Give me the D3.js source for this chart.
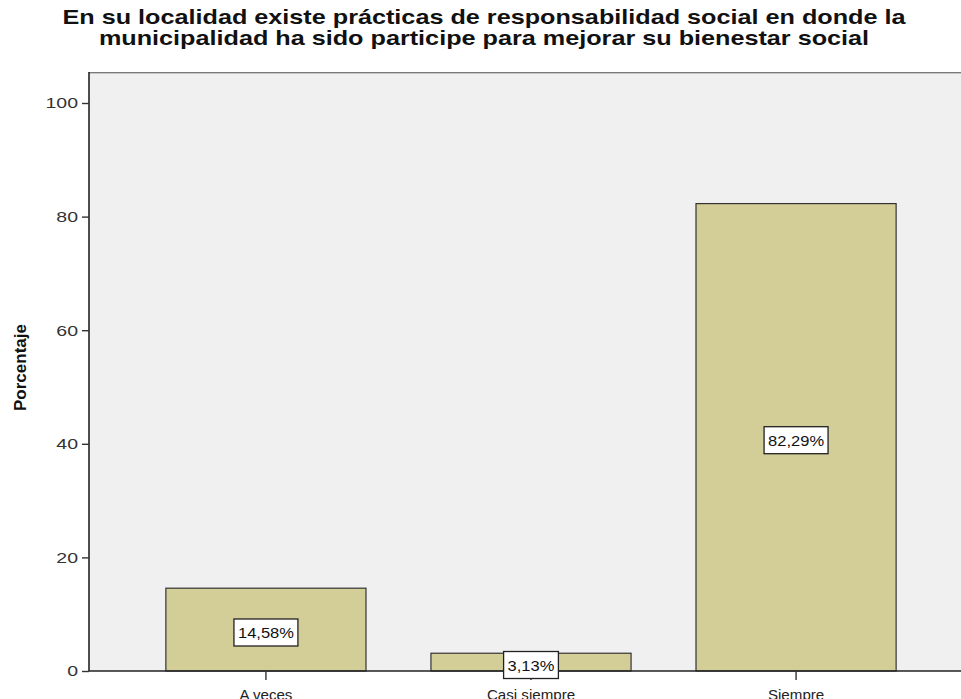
<!DOCTYPE html>
<html>
<head>
<meta charset="utf-8">
<script src="https://cdn.jsdelivr.net/npm/d3@7"></script>
<style>
  html, body { margin: 0; padding: 0; background: #ffffff; }
  svg { display: block; }
</style>
</head>
<body>
<svg id="chart" width="961" height="699"></svg>
<script>
// Response categories and their percentages
const categories = ["A veces", "Casi siempre", "Siempre"];
const percentages = [14.58, 3.13, 82.29];
const yTicks = [0, 20, 40, 60, 80, 100];
const titleLines = [
  "En su localidad existe prácticas de responsabilidad social en donde la",
  "municipalidad ha sido participe para mejorar su bienestar social"
];
const yLabel = "Porcentaje";

const svg = d3.select("#chart");
const W = 961, H = 699;
const plot = { left: 89, right: 973, top: 72, bottom: 671 };
const fontFamily = "'Liberation Sans', Arial, sans-serif";

// widen glyphs horizontally (the chart's type is set slightly extended)
function widen(sel, factor) {
  sel.each(function () {
    const len = this.getComputedTextLength();
    d3.select(this)
      .attr("textLength", len * factor)
      .attr("lengthAdjust", "spacingAndGlyphs");
  });
}

const x = d3.scaleBand()
  .domain(categories)
  .range([plot.left, plot.right])
  .paddingInner(0.245)
  .paddingOuter(0.29);

const y = d3.scaleLinear()
  .domain([0, 100])
  .range([plot.bottom, plot.bottom - 568]);

// plot background
svg.append("rect")
  .attr("x", plot.left).attr("y", plot.top)
  .attr("width", W - plot.left).attr("height", plot.bottom - plot.top)
  .attr("fill", "#f0f0f0");

// top frame edge
svg.append("line")
  .attr("x1", plot.left).attr("x2", W)
  .attr("y1", plot.top + 0.5).attr("y2", plot.top + 0.5)
  .attr("stroke", "#7a7a7a").attr("stroke-width", 1);
svg.append("line")
  .attr("x1", plot.left).attr("x2", W)
  .attr("y1", plot.top + 1.5).attr("y2", plot.top + 1.5)
  .attr("stroke", "#c4c4c4").attr("stroke-width", 1);

// bars
svg.append("g").selectAll("rect")
  .data(categories)
  .join("rect")
  .attr("x", d => x(d))
  .attr("width", x.bandwidth())
  .attr("y", (d, i) => y(percentages[i]))
  .attr("height", (d, i) => y(0) - y(percentages[i]))
  .attr("fill", "#d3ce97")
  .attr("stroke", "#333333")
  .attr("stroke-width", 1.2);

// axes
const yAxis = d3.axisLeft(y).tickValues(yTicks).tickSize(7).tickPadding(4).tickFormat(d3.format("d"));
const gy = svg.append("g").attr("transform", `translate(${plot.left},0)`).call(yAxis);
gy.select(".domain").attr("stroke", "#222").attr("stroke-width", 1.6).attr("d", `M0,${plot.top}V${plot.bottom}`);
gy.selectAll(".tick line").attr("stroke", "#333").attr("stroke-width", 1.4);
gy.selectAll(".tick text").attr("fill", "#333").attr("font-size", 15).attr("font-family", fontFamily)
  .call(widen, 1.3);

const xAxis = d3.axisBottom(x).tickSize(9).tickPadding(10);
const gx = svg.append("g").attr("transform", `translate(0,${plot.bottom})`).call(xAxis);
gx.select(".domain").attr("stroke", "#222").attr("stroke-width", 1.6).attr("d", `M${plot.left},0H${W}`);
gx.selectAll(".tick line").attr("stroke", "#333").attr("stroke-width", 1.4);
gx.selectAll(".tick text").attr("fill", "#222").attr("font-size", 14).attr("font-family", fontFamily)
  .call(widen, 1.08);

// value labels in boxes
const labels = svg.append("g").selectAll("g")
  .data(categories)
  .join("g")
  .attr("transform", (d, i) => `translate(${x(d) + x.bandwidth() / 2},${(y(percentages[i]) + y(0)) / 2 + 3})`);
labels.append("text")
  .attr("text-anchor", "middle")
  .attr("dy", "0.36em")
  .attr("font-size", 15)
  .attr("font-family", fontFamily)
  .attr("fill", "#111")
  .text((d, i) => d3.format(".2f")(percentages[i]).replace(".", ",") + "%")
  .call(widen, 1.1);
labels.each(function () {
  const g = d3.select(this);
  const bb = g.select("text").node().getBBox();
  g.insert("rect", "text")
    .attr("x", bb.x - 4).attr("y", bb.y - 5)
    .attr("width", bb.width + 8).attr("height", bb.height + 10)
    .attr("fill", "#ffffff").attr("stroke", "#222").attr("stroke-width", 1.3);
});

// y axis title
svg.append("text")
  .attr("transform", `translate(26,${(plot.top + plot.bottom) / 2 - 4}) rotate(-90)`)
  .attr("text-anchor", "middle")
  .attr("font-size", 17)
  .attr("font-weight", "bold")
  .attr("font-family", fontFamily)
  .attr("fill", "#111")
  .text(yLabel);

// chart title
svg.append("g").selectAll("text")
  .data(titleLines)
  .join("text")
  .attr("x", 484)
  .attr("y", (d, i) => 24 + i * 21)
  .attr("text-anchor", "middle")
  .attr("font-size", 21)
  .attr("font-weight", "bold")
  .attr("font-family", fontFamily)
  .attr("fill", "#111")
  .text(d => d)
  .call(widen, 1.2);
</script>
</body>
</html>
